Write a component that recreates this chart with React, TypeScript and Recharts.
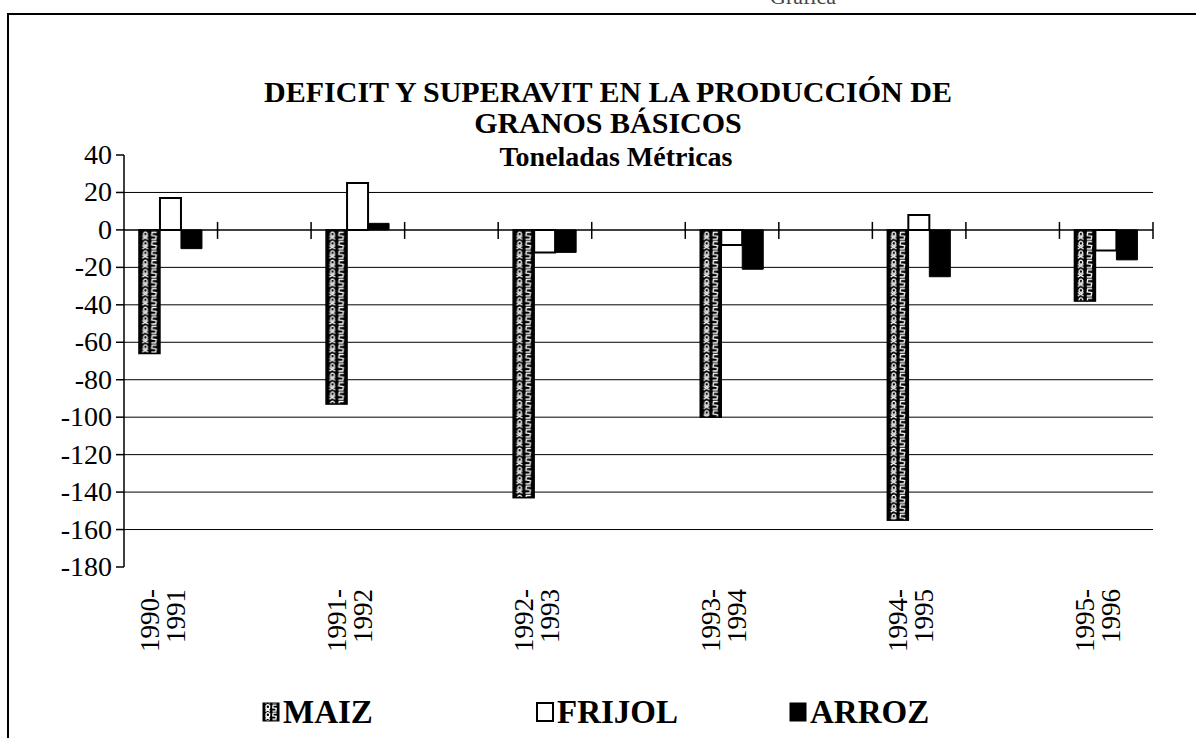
import React from 'react';
import { BarChart, Bar, XAxis, YAxis, CartesianGrid, ReferenceLine } from 'recharts';

const categories = ["1990-1991", "", "1991-1992", "", "1992-1993", "", "1993-1994", "", "1994-1995", "", "1995-1996"];
const maiz = [-66, null, -93, null, -143, null, -100, null, -155, null, -38];
const frijol = [17, null, 25, null, -12, null, -8, null, 8, null, -11];
const arroz = [-10, null, 3.5, null, -12, null, -21, null, -25, null, -16];
const yTicks = [40, 20, 0, -20, -40, -60, -80, -100, -120, -140, -160, -180];
const gridValues = [20, -20, -40, -60, -80, -100, -120, -140, -160];
const seriesNames = ["MAIZ", "FRIJOL", "ARROZ"];
const titleLines = ["DEFICIT Y SUPERAVIT EN LA PRODUCCIÓN DE", "GRANOS BÁSICOS"];
const subtitle = "Toneladas Métricas";

const data = categories.map((c, i) => ({ label: c, maiz: maiz[i], frijol: frijol[i], arroz: arroz[i] }));

const FONT = "'Liberation Serif', 'Times New Roman', serif";

const PatternTile = ({ id, x, y, tw, th }: any) => {
  const hw = tw / 2;
  return (
    <pattern id={id} patternUnits="userSpaceOnUse" x={x} y={y} width={tw} height={th}>
      <rect width={tw} height={th} fill="#000" />
      <circle cx={hw * 0.55} cy={th * 0.33} r={1.9} fill="none" stroke="#fff" strokeWidth={1.3} />
      <path
        d={`M${hw * 0.2} ${th * 0.92} L${hw * 0.85} ${th * 0.55} M${hw * 0.2} ${th * 0.55} L${hw * 0.85} ${th * 0.92}`}
        stroke="#fff"
        strokeWidth={1.3}
      />
      <path
        d={`M${hw + hw * 0.8} ${th * 0.15} L${hw + hw * 0.3} ${th * 0.15} L${hw + hw * 0.25} ${th * 0.5} L${hw + hw * 0.75} ${th * 0.55} L${hw + hw * 0.7} ${th * 0.9} L${hw + hw * 0.2} ${th * 0.9}`}
        fill="none"
        stroke="#fff"
        strokeWidth={1.3}
      />
    </pattern>
  );
};

const MaizShape = (props: any) => {
  const { x, y, width, height, index } = props;
  if (x == null || y == null || !width || !height) return null;
  const top = Math.min(y, y + height);
  const h = Math.abs(height);
  const id = `maiz-pat-${index}`;
  return (
    <g>
      <defs>
        <PatternTile id={id} x={x + 1.5} y={top + 1} tw={width - 3} th={9.4} />
      </defs>
      <rect x={x} y={top} width={width} height={h} fill={`url(#${id})`} stroke="#000" strokeWidth={1.5} />
    </g>
  );
};

const ZeroAxis = (props: any) => {
  const { x1, x2, y1 } = props;
  const n = categories.length;
  const step = (x2 - x1) / n;
  return (
    <g>
      <line x1={x1} x2={x2} y1={y1} y2={y1} stroke="#000" strokeWidth={1.5} />
      {Array.from({ length: n }, (_, i) => {
        const tx = x1 + step * (i + 1);
        return <line key={i} x1={tx} x2={tx} y1={y1 - 8} y2={y1 + 9} stroke="#000" strokeWidth={1.5} />;
      })}
    </g>
  );
};

const XTick = (props: any) => {
  const { x, y, payload } = props;
  const v: string = payload && payload.value;
  if (!v) return <g />;
  const idx = v.indexOf('-');
  const a = v.slice(0, idx + 1);
  const b = v.slice(idx + 1);
  return (
    <g transform={`translate(${x},${y})`}>
      <text transform="rotate(-90)" textAnchor="end" style={{ fontFamily: FONT, fontSize: 27 }} fill="#000">
        <tspan x={-22} y={-12}>{a}</tspan>
        <tspan x={-22} y={14}>{b}</tspan>
      </text>
    </g>
  );
};

const YTick = (props: any) => {
  const { x, y, payload } = props;
  return (
    <text x={x} y={y} dy={9} textAnchor="end" style={{ fontFamily: FONT, fontSize: 28 }} fill="#000">
      {payload.value}
    </text>
  );
};

export default function App() {
  const legendX = [263, 537, 790];
  const titleStyle = { fontFamily: FONT, fontWeight: 'bold' as const };
  return (
    <div style={{ position: 'absolute', left: 0, top: 0, width: 1196, height: 738, overflow: 'hidden', background: '#fff' }}>
      <div style={{ position: 'absolute', left: 7, top: 13, width: 1300, height: 900, borderTop: '2px solid #000', borderLeft: '2px solid #000' }} />
      <div style={{ position: 'absolute', left: 0, top: 0 }}>
        <BarChart
          width={1196}
          height={738}
          data={data}
          margin={{ top: 155, right: 43, left: 8, bottom: 61 }}
          barCategoryGap="16%"
          barGap={0}
        >
          <CartesianGrid horizontalValues={gridValues} vertical={false} stroke="#000" strokeWidth={1} />
          <XAxis
            dataKey="label"
            axisLine={false}
            tickLine={false}
            tickSize={0}
            tickMargin={0}
            interval={0}
            height={110}
            tick={<XTick />}
          />
          <YAxis
            domain={[-180, 40]}
            ticks={yTicks}
            interval={0}
            width={116}
            axisLine={{ stroke: '#000', strokeWidth: 1.5 }}
            tickLine={{ stroke: '#000', strokeWidth: 1.5 }}
            tickSize={8}
            tickMargin={4}
            tick={<YTick />}
          />
          <Bar dataKey="maiz" isAnimationActive={false} shape={<MaizShape />} />
          <Bar dataKey="frijol" isAnimationActive={false} fill="#fff" stroke="#000" strokeWidth={2} />
          <Bar dataKey="arroz" isAnimationActive={false} fill="#000" stroke="#000" strokeWidth={1} />
          <ReferenceLine y={0} shape={<ZeroAxis />} />
        </BarChart>
      </div>
      <svg width={1196} height={738} style={{ position: 'absolute', left: 0, top: 0, pointerEvents: 'none' }}>
        <defs>
          <PatternTile id="legend-maiz" x={legendX[0] + 1} y={704} tw={14} th={8} />
        </defs>
        <text x={803} y={4} textAnchor="middle" style={{ fontFamily: FONT, fontSize: 22 }} fill="#444">Gráfica</text>
        <text x={608} y={102} textAnchor="middle" style={{ ...titleStyle, fontSize: 30 }} fill="#000">{titleLines[0]}</text>
        <text x={608} y={133} textAnchor="middle" style={{ ...titleStyle, fontSize: 30 }} fill="#000">{titleLines[1]}</text>
        <text x={616} y={166} textAnchor="middle" style={{ ...titleStyle, fontSize: 28 }} fill="#000">{subtitle}</text>
        {seriesNames.map((name, i) => (
          <g key={name}>
            {i === 0 && <rect x={legendX[i]} y={703} width={16} height={18} fill="url(#legend-maiz)" stroke="#000" strokeWidth={1} />}
            {i === 1 && <rect x={legendX[i]} y={703} width={16} height={18} fill="#fff" stroke="#000" strokeWidth={2} />}
            {i === 2 && <rect x={legendX[i]} y={703} width={16} height={18} fill="#000" stroke="#000" strokeWidth={1} />}
            <text x={legendX[i] + 20} y={723} style={{ ...titleStyle, fontSize: 33 }} fill="#000">{name}</text>
          </g>
        ))}
      </svg>
    </div>
  );
}
